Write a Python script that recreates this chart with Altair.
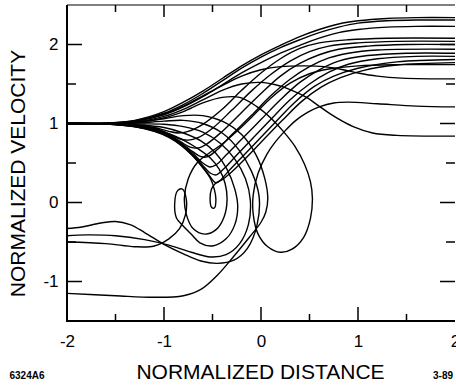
import altair as alt
import pandas as pd

# ---- tick / label values ----
X_LABELS = [-2, -1, 0, 1, 2]
Y_LABELS = [-1, 0, 1, 2]
X_MAJOR = [-1, 0, 1]
X_MINOR = [-1.5, -0.5, 0.5, 1.5]
Y_MAJOR = [-1, 0, 1, 2]
Y_MINOR = [-0.5, 0.5, 1.5]
NOTE_LEFT = ["6324A6"]
NOTE_RIGHT = ["3-89"]

# ---- trajectories (normalized distance, normalized velocity) ----
U1 = [(-2, 1), (-1.6, 1.005), (-1.3, 1.04), (-1.0, 1.15), (-0.8, 1.27), (-0.6, 1.41), (-0.4, 1.57), (-0.2, 1.73), (0.0, 1.87), (0.2, 1.99), (0.4, 2.1), (0.6, 2.19), (0.8, 2.26), (1.0, 2.3), (1.3, 2.33), (1.6, 2.34), (2.0, 2.34)]
U2 = [(-2, 1), (-1.6, 1.003), (-1.3, 1.035), (-1.0, 1.13), (-0.8, 1.24), (-0.6, 1.38), (-0.4, 1.54), (-0.2, 1.7), (0.0, 1.84), (0.2, 1.96), (0.4, 2.06), (0.6, 2.15), (0.8, 2.22), (1.0, 2.27), (1.3, 2.3), (1.6, 2.31), (2.0, 2.31)]
U3 = [(-2, 1), (-1.6, 1.002), (-1.3, 1.03), (-1.0, 1.11), (-0.8, 1.21), (-0.6, 1.34), (-0.4, 1.49), (-0.2, 1.64), (0.0, 1.77), (0.2, 1.89), (0.4, 1.99), (0.6, 2.08), (0.8, 2.15), (1.0, 2.19), (1.3, 2.22), (1.6, 2.23), (2.0, 2.23)]
P1 = [(-2, 1), (-1.6, 1.002), (-1.3, 1.028), (-1.0, 1.12), (-0.8, 1.22), (-0.6, 1.35), (-0.4, 1.48), (-0.2, 1.6), (0.0, 1.68), (0.2, 1.72), (0.45, 1.73), (0.65, 1.72), (0.85, 1.68), (1.0, 1.64), (1.2, 1.6), (1.45, 1.575), (2.0, 1.565)]
P2 = [(-2, 1), (-1.6, 1.001), (-1.3, 1.02), (-1.0, 1.09), (-0.8, 1.18), (-0.6, 1.3), (-0.4, 1.42), (-0.2, 1.5), (0.0, 1.52), (0.15, 1.49), (0.3, 1.43), (0.47, 1.33), (0.62, 1.2), (0.78, 1.07), (0.95, 0.96), (1.15, 0.88), (1.4, 0.85), (2.0, 0.84)]
BL = [(-2, 1), (-1.6, 1.0), (-1.3, 1.015), (-1.0, 1.07), (-0.8, 1.15), (-0.6, 1.26), (-0.4, 1.33), (-0.22, 1.33), (-0.05, 1.22), (0.1, 1.07), (0.23, 0.9), (0.35, 0.71), (0.45, 0.48), (0.51, 0.26), (0.53, 0.05), (0.51, -0.2), (0.44, -0.44), (0.32, -0.59), (0.2, -0.63), (0.07, -0.56), (-0.03, -0.4), (-0.08, -0.15), (-0.08, 0.1), (-0.03, 0.37), (0.06, 0.61), (0.15, 0.77), (0.25, 0.91), (0.36, 1.04), (0.48, 1.14), (0.6, 1.21), (0.75, 1.26), (0.9, 1.27), (1.2, 1.25), (1.6, 1.22), (2.0, 1.21)]
D1 = [(-2, 1), (-1.6, 0.999), (-1.3, 0.985), (-1.1, 0.95), (-0.95, 0.9), (-0.85, 0.88), (-0.75, 0.9), (-0.6, 0.99), (-0.4, 1.18), (-0.2, 1.42), (0.0, 1.64), (0.2, 1.82), (0.4, 1.95), (0.6, 2.02), (0.9, 2.06), (1.3, 2.08), (2.0, 2.08)]
D2 = [(-2, 1), (-1.6, 0.998), (-1.3, 0.98), (-1.1, 0.94), (-0.95, 0.87), (-0.85, 0.81), (-0.75, 0.79), (-0.65, 0.82), (-0.5, 0.94), (-0.3, 1.17), (-0.1, 1.41), (0.1, 1.62), (0.3, 1.79), (0.5, 1.91), (0.7, 1.98), (1.0, 2.02), (1.4, 2.04), (2.0, 2.04)]
D3 = [(-2, 1), (-1.6, 0.997), (-1.3, 0.975), (-1.1, 0.93), (-0.95, 0.855), (-0.83, 0.77), (-0.73, 0.7), (-0.65, 0.69), (-0.56, 0.74), (-0.4, 0.9), (-0.2, 1.14), (0.0, 1.38), (0.2, 1.6), (0.4, 1.76), (0.6, 1.87), (0.8, 1.94), (1.1, 1.98), (1.5, 2.0), (2.0, 2.0)]
D4 = [(-2, 1), (-1.6, 0.996), (-1.3, 0.97), (-1.1, 0.92), (-0.95, 0.845), (-0.82, 0.75), (-0.7, 0.64), (-0.62, 0.58), (-0.55, 0.58), (-0.45, 0.67), (-0.3, 0.86), (-0.1, 1.1), (0.1, 1.35), (0.3, 1.56), (0.5, 1.72), (0.7, 1.83), (0.9, 1.89), (1.2, 1.93), (2.0, 1.94)]
D5 = [(-2, 1), (-1.6, 0.995), (-1.3, 0.965), (-1.1, 0.915), (-0.95, 0.84), (-0.82, 0.74), (-0.7, 0.62), (-0.6, 0.5), (-0.53, 0.45), (-0.46, 0.48), (-0.36, 0.6), (-0.2, 0.8), (0.0, 1.05), (0.2, 1.3), (0.4, 1.52), (0.6, 1.68), (0.8, 1.79), (1.1, 1.86), (1.5, 1.89), (2.0, 1.89)]
D6 = [(-2, 1), (-1.6, 0.994), (-1.3, 0.962), (-1.1, 0.91), (-0.95, 0.835), (-0.82, 0.73), (-0.7, 0.6), (-0.6, 0.47), (-0.52, 0.37), (-0.46, 0.35), (-0.38, 0.43), (-0.25, 0.6), (-0.08, 0.82), (0.1, 1.05), (0.3, 1.3), (0.5, 1.5), (0.7, 1.65), (0.9, 1.75), (1.2, 1.82), (1.6, 1.85), (2.0, 1.85)]
D7 = [(-2, 1), (-1.6, 0.993), (-1.3, 0.96), (-1.1, 0.905), (-0.95, 0.83), (-0.82, 0.725), (-0.7, 0.59), (-0.6, 0.45), (-0.52, 0.32), (-0.47, 0.25), (-0.43, 0.27), (-0.34, 0.39), (-0.2, 0.57), (-0.02, 0.8), (0.15, 1.02), (0.35, 1.27), (0.55, 1.47), (0.75, 1.6), (1.0, 1.7), (1.4, 1.78), (2.0, 1.81)]
S1 = [(-2, 1), (-1.6, 0.992), (-1.3, 0.958), (-1.1, 0.9), (-0.95, 0.825), (-0.82, 0.72), (-0.7, 0.585), (-0.6, 0.44), (-0.52, 0.3), (-0.48, 0.16), (-0.465, 0.04), (-0.48, -0.07), (-0.51, -0.06), (-0.525, 0.05), (-0.51, 0.17), (-0.47, 0.24), (-0.4, 0.29), (-0.3, 0.39), (-0.15, 0.57), (0.03, 0.8), (0.22, 1.04), (0.42, 1.28), (0.62, 1.46), (0.82, 1.58), (1.05, 1.67), (1.4, 1.74), (2.0, 1.77)]
A = [(-2, 1), (-1.6, 0.996), (-1.3, 0.975), (-1.1, 0.935), (-0.95, 0.87), (-0.8, 0.79), (-0.65, 0.68), (-0.52, 0.56), (-0.43, 0.42), (-0.37, 0.24), (-0.35, 0.03), (-0.38, -0.18), (-0.46, -0.34), (-0.58, -0.4), (-0.7, -0.33), (-0.77, -0.15), (-0.79, 0.06), (-0.75, 0.3), (-0.66, 0.5), (-0.53, 0.63), (-0.4, 0.74), (-0.25, 0.9), (-0.08, 1.1), (0.1, 1.32), (0.3, 1.51), (0.5, 1.63), (0.7, 1.69), (1.0, 1.73), (1.4, 1.745), (2.0, 1.745)]
B = [(-2, 1), (-1.6, 0.998), (-1.3, 0.985), (-1.0, 0.95), (-0.8, 0.88), (-0.62, 0.78), (-0.47, 0.63), (-0.35, 0.42), (-0.27, 0.17), (-0.24, -0.05), (-0.27, -0.28), (-0.36, -0.46), (-0.5, -0.55), (-0.63, -0.51), (-0.72, -0.4), (-0.8, -0.3), (-0.87, -0.2), (-0.89, -0.02), (-0.86, 0.15), (-0.81, 0.17), (-0.77, 0.04), (-0.78, -0.16), (-0.84, -0.33), (-0.95, -0.46), (-1.1, -0.55), (-1.3, -0.56), (-1.6, -0.52), (-2, -0.5)]
C = [(-2, 1), (-1.6, 1.0), (-1.3, 0.995), (-1.0, 0.99), (-0.8, 0.96), (-0.6, 0.89), (-0.42, 0.75), (-0.27, 0.55), (-0.16, 0.3), (-0.11, 0.03), (-0.13, -0.28), (-0.22, -0.52), (-0.36, -0.66), (-0.52, -0.69), (-0.72, -0.63), (-0.95, -0.54), (-1.2, -0.47), (-1.5, -0.42), (-1.8, -0.41), (-2, -0.42)]
DD = [(-2, 1), (-1.6, 1.001), (-1.3, 1.005), (-1.0, 1.03), (-0.8, 1.04), (-0.6, 1.0), (-0.4, 0.88), (-0.23, 0.67), (-0.1, 0.4), (-0.02, 0.08), (-0.04, -0.28), (-0.14, -0.58), (-0.28, -0.73), (-0.45, -0.77), (-0.62, -0.74), (-0.8, -0.65), (-1.0, -0.53), (-1.2, -0.38), (-1.35, -0.28), (-1.5, -0.24), (-1.65, -0.26), (-1.85, -0.31), (-2, -0.33)]
RD = [(-2, 1), (-1.6, 1.001), (-1.3, 1.01), (-1.0, 1.06), (-0.8, 1.1), (-0.6, 1.1), (-0.4, 1.03), (-0.2, 0.86), (-0.05, 0.6), (0.04, 0.3), (0.07, 0.05), (0.05, -0.12), (0.0, -0.25), (-0.12, -0.44), (-0.28, -0.68), (-0.45, -0.92), (-0.62, -1.1), (-0.8, -1.18), (-1.1, -1.2), (-1.5, -1.18), (-2, -1.15)]

CURVES = {"U1": U1, "U2": U2, "U3": U3, "P1": P1, "P2": P2, "BL": BL,
          "D1": D1, "D2": D2, "D3": D3, "D4": D4, "D5": D5, "D6": D6, "D7": D7,
          "S1": S1, "A": A, "B": B, "C": C, "DD": DD, "RD": RD}

rows = []
for name, pts in CURVES.items():
    for i, (xv, yv) in enumerate(pts):
        rows.append({"curve": name, "i": i, "x": xv, "y": yv})
df = pd.DataFrame(rows)

W, H = 388, 316
FONT = "Liberation Sans"

xscale = alt.Scale(domain=[-2, 2], nice=False, zero=False)
yscale = alt.Scale(domain=[-1.5, 2.5], nice=False, zero=False)
xaxis = alt.Axis(values=X_LABELS, title="NORMALIZED DISTANCE", labelExpr="'' + datum.value",
                 labelFlush=False, ticks=False, domain=False, grid=False, labelPadding=12,
                 titleX=193, titleY=51, titleAlign="center", titleBaseline="middle")
yaxis = alt.Axis(values=Y_LABELS, title="NORMALIZED VELOCITY", labelExpr="'' + datum.value",
                 ticks=False, domain=False, grid=False, labelPadding=9,
                 titleX=-49, titleY=168, titleAngle=270, titleAlign="center", titleBaseline="middle")

lines = alt.Chart(df).mark_line(color="black", strokeWidth=1.4, interpolate="catmull-rom", clip=True).encode(
    x=alt.X("x:Q", scale=xscale, axis=xaxis),
    y=alt.Y("y:Q", scale=yscale, axis=yaxis),
    detail="curve:N",
    order="i:Q",
)


def vticks(values, y0, y1):
    return alt.Chart(pd.DataFrame({"x": values})).mark_rule(color="black", strokeWidth=1.5).encode(
        x=alt.X("x:Q", scale=xscale, axis=xaxis), y=alt.value(y0), y2=alt.value(y1))


def hticks(values, x0, x1):
    return alt.Chart(pd.DataFrame({"y": values})).mark_rule(color="black", strokeWidth=1.5).encode(
        y=alt.Y("y:Q", scale=yscale, axis=yaxis), x=alt.value(x0), x2=alt.value(x1))


ticks = [
    vticks(X_MAJOR, H, H - 14), vticks(X_MINOR, H, H - 7),
    vticks(X_MAJOR, 0, 12), vticks(X_MINOR, 0, 7),
    hticks(Y_MAJOR, 0, 15), hticks(Y_MINOR, 0, 9),
    hticks(Y_MAJOR, W, W - 15), hticks(Y_MINOR, W, W - 9),
]

# frame: left, bottom and top edges (the right edge falls outside the scanned picture)
one = pd.DataFrame({"k": [0]})
frame = [
    alt.Chart(one).mark_rule(color="black", strokeWidth=2).encode(x=alt.value(0), y=alt.value(0), y2=alt.value(H + 1)),
    alt.Chart(one).mark_rule(color="black", strokeWidth=2).encode(x=alt.value(-1), x2=alt.value(W), y=alt.value(H)),
    alt.Chart(one).mark_rule(color="black", strokeWidth=1.2).encode(x=alt.value(0), x2=alt.value(W), y=alt.value(0)),
]

note_l = alt.Chart(pd.DataFrame({"t": NOTE_LEFT})).mark_text(
    font=FONT, fontSize=10, fontWeight="bold", align="center", baseline="middle", color="black"
).encode(text="t:N", x=alt.value(-40), y=alt.value(H + 55))
note_r = alt.Chart(pd.DataFrame({"t": NOTE_RIGHT})).mark_text(
    font=FONT, fontSize=10, fontWeight="bold", align="left", baseline="middle", color="black"
).encode(text="t:N", x=alt.value(366), y=alt.value(H + 55))

chart = alt.layer(lines, *ticks, *frame, note_l, note_r).properties(
    width=W, height=H,
    padding={"left": 67, "top": 5, "right": 1, "bottom": 66},
    autosize=alt.AutoSizeParams(type="none"),
    background="white",
).configure_view(
    stroke=None
).configure_axis(
    labelFont=FONT, labelFontSize=17, labelColor="black",
    titleFont=FONT, titleFontSize=21, titleFontWeight="normal", titleColor="black",
)

chart.save("out.html", embed_options={"renderer": "svg", "actions": False})
